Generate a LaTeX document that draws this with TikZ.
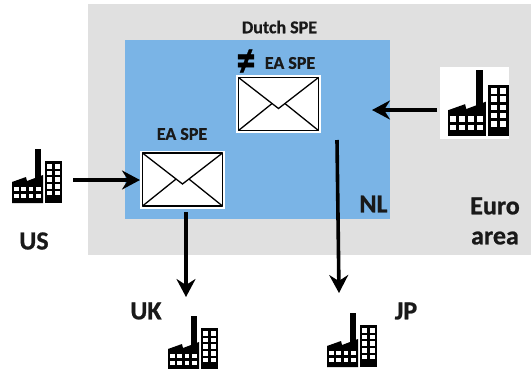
\documentclass[tikz,border=0pt]{standalone}
\usepackage{fontspec}
\setmainfont[BoldFeatures={FakeBold=0.8}]{Carlito}
\usetikzlibrary{arrows.meta,calc}
\definecolor{areagrey}{HTML}{E0E0E0}
\definecolor{nlblue}{HTML}{7AB4E6}
\newcommand{\factoryicon}[3]{%
\begin{scope}[shift={(#1,#2)},x=#3pt,y=-#3pt]
 \fill[black] (23,0) rectangle (29,30);
 \fill[black] (0,33) -- (14,28) -- (15,32) -- (31,26) -- (31,54) -- (0,54) -- cycle;
 \fill[black] (33,12) rectangle (50,54);
 \foreach \i in {0,1,2,3} \foreach \j in {0,1}
  \fill[white] (2+\i*7.3,38+\j*7) rectangle (6.6+\i*7.3,42.4+\j*7);
 \foreach \i in {0,1} \foreach \j in {0,1,2,3,4}
  \fill[white] (35+\i*7.5,15+\j*6.7) rectangle (40+\i*7.5,19.6+\j*6.7);
\end{scope}}
\newcommand{\envelopeicon}[1]{%
 \coordinate (p) at ($(#1.north west)+(2.5,2.5)$);
 \coordinate (q) at ($(#1.north east)+(-2.5,2.5)$);
 \coordinate (r) at ($(#1.south east)+(-2.5,-2.5)$);
 \coordinate (s) at ($(#1.south west)+(2.5,-2.5)$);
 \draw[line width=1.5pt,line join=round] (p) -- (q) -- (r) -- (s) -- cycle;
 \draw[line width=1.3pt] (p) -- ($(p)!0.5!(q)+(0,31)$) -- (q);
 \draw[line width=1.3pt] (s) -- ($(p)!0.42!(q)+(0,26)$);
 \draw[line width=1.3pt] (r) -- ($(p)!0.58!(q)+(0,26)$);
}
\tikzset{
 envelopebox/.style={fill=white,draw=none,minimum width=85pt,minimum height=58pt,inner sep=0pt,outer sep=0pt},
 boldlabel/.style={font=\bfseries\fontsize{#1}{#1}\selectfont,inner sep=0pt,text=black!90},
 flow/.style={line width=3.6pt,-{Stealth[length=18pt,width=19pt,inset=6pt]}}
}
\begin{document}
\begin{tikzpicture}[x=1pt,y=-1pt]
\useasboundingbox (0,0) rectangle (531,368);
\fill[areagrey] (88,4) rectangle (531,255);
\fill[nlblue] (125,40) rectangle (390,219);
\node[envelopebox] (envA) at (182.5,179.5) {};
\node[envelopebox] (envB) at (278.5,104) {};
\envelopeicon{envA}
\envelopeicon{envB}
\fill[white] (440,67) rectangle (509,139);
\factoryicon{12}{149}{1}
\factoryicon{448}{70}{1.22}
\factoryicon{168}{316}{1}
\factoryicon{327}{313}{1}
\node[boldlabel=18] (dutch) at (279.5,27) {Dutch SPE};
\node[boldlabel=18] (ea1) at (290,63) {EA SPE};
\node[boldlabel=18] (ea2) at (182,134) {EA SPE};
\node[font=\fontsize{36}{36}\selectfont\bfseries,inner sep=0pt] (neq) at (246,63) {\scalebox{1.05}[1.35]{≠}};
\node[boldlabel=26] (nl) at (373.5,204) {NL};
\node[boldlabel=26,align=center] (euro) at (495,221) {Euro\\[4pt]area};
\node[boldlabel=26] (us) at (34,241) {US};
\node[boldlabel=26] (uk) at (146,311) {UK};
\node[boldlabel=26] (jp) at (406,311) {JP};
\coordinate (usout) at (73,180);
\coordinate (eout) at (437,110);
\coordinate (ein) at (372,110);
\coordinate (ukin) at (186,297);
\coordinate (jpin) at (339,293);
\coordinate (aout) at (186,212);
\coordinate (bout) at (337,140);
\draw[flow] (usout) -- (usout -| envA.west);
\draw[flow] (eout) -- (ein);
\draw[flow] (aout) -- (ukin);
\draw[flow] (bout) -- (jpin);
\end{tikzpicture}
\end{document}
